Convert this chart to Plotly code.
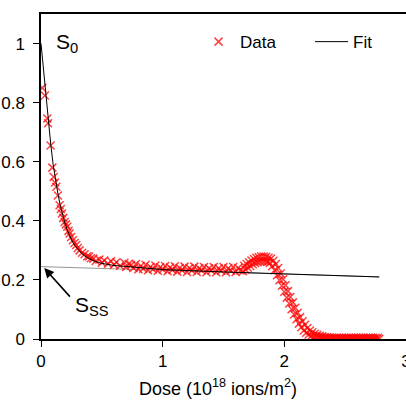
import plotly.graph_objects as go

# Measured data (dose in 1e18 ions/m^2, normalized S)
dose = [0.010, 0.032, 0.052, 0.058, 0.079, 0.093, 0.104, 0.115, 0.126, 0.139,
        0.153, 0.163, 0.172, 0.183, 0.194, 0.205, 0.216, 0.226, 0.235, 0.248,
        0.262, 0.276, 0.290, 0.303, 0.317, 0.338, 0.358, 0.380, 0.395, 0.410,
        0.430, 0.450, 0.480, 0.500, 0.520, 0.550, 0.576, 0.600, 0.620, 0.650,
        0.686, 0.700, 0.720,
        0.74, 0.76, 0.78, 0.80, 0.82, 0.84, 0.86, 0.88, 0.90, 0.92,
        0.94, 0.96, 0.98, 1.00, 1.02, 1.04, 1.06, 1.08, 1.10, 1.12,
        1.14, 1.16, 1.18, 1.20, 1.22, 1.24, 1.26, 1.28, 1.30, 1.32,
        1.34, 1.36, 1.38, 1.40, 1.42, 1.44, 1.46, 1.48, 1.50, 1.52,
        1.54, 1.56, 1.58, 1.60, 1.62, 1.64,
        1.66, 1.67, 1.68, 1.69, 1.70, 1.71, 1.72, 1.73, 1.74, 1.75,
        1.76, 1.77, 1.78, 1.79, 1.80, 1.81, 1.82, 1.83, 1.84, 1.85,
        1.86, 1.87, 1.88, 1.89, 1.90, 1.91, 1.92, 1.93, 1.94, 1.95,
        1.96, 1.97, 1.98, 1.99, 2.00, 2.01, 2.02, 2.03, 2.04, 2.05,
        2.06, 2.07, 2.08, 2.09, 2.10, 2.11, 2.12, 2.13, 2.14, 2.15,
        2.16, 2.17, 2.18, 2.19, 2.20, 2.21, 2.22, 2.23, 2.24, 2.25,
        2.26, 2.27, 2.28, 2.29, 2.30, 2.31, 2.32, 2.33, 2.34, 2.35,
        2.36, 2.37, 2.38, 2.39, 2.40, 2.41, 2.42, 2.43, 2.44, 2.45,
        2.46, 2.47, 2.48, 2.49, 2.50, 2.51, 2.52, 2.53, 2.54, 2.55,
        2.56, 2.57, 2.58, 2.59, 2.60, 2.61, 2.62, 2.63, 2.64, 2.65,
        2.66, 2.67, 2.68, 2.69, 2.70, 2.71, 2.72, 2.73, 2.74, 2.75,
        2.76, 2.77, 2.78]
signal = [0.850, 0.824, 0.746, 0.730, 0.655, 0.580, 0.548, 0.530, 0.515, 0.486,
          0.453, 0.440, 0.425, 0.410, 0.396, 0.388, 0.380, 0.366, 0.357, 0.345,
          0.334, 0.325, 0.318, 0.308, 0.300, 0.292, 0.287, 0.280, 0.279, 0.273,
          0.272, 0.264, 0.269, 0.258, 0.266, 0.255, 0.263, 0.251, 0.260, 0.248,
          0.258, 0.244, 0.254,
          0.250, 0.240, 0.254, 0.236, 0.247, 0.238, 0.251, 0.233, 0.244, 0.236,
          0.249, 0.231, 0.243, 0.235, 0.247, 0.229, 0.242, 0.234, 0.246, 0.228,
          0.240, 0.233, 0.245, 0.227, 0.240, 0.232, 0.245, 0.227, 0.239, 0.232,
          0.244, 0.226, 0.239, 0.232, 0.244, 0.226, 0.239, 0.231, 0.244, 0.226,
          0.239, 0.231, 0.244, 0.227, 0.240, 0.232,
          0.229, 0.248, 0.235, 0.254, 0.241, 0.260, 0.247, 0.266, 0.253, 0.271,
          0.257, 0.275, 0.260, 0.277, 0.262, 0.279, 0.263, 0.279, 0.263, 0.278,
          0.261, 0.275, 0.257, 0.272, 0.246, 0.265, 0.233, 0.254, 0.216, 0.240,
          0.199, 0.222, 0.180, 0.202, 0.160, 0.182, 0.140, 0.162, 0.120, 0.142,
          0.101, 0.124, 0.083, 0.106, 0.067, 0.089, 0.052, 0.074, 0.040, 0.060,
          0.029, 0.048, 0.021, 0.037, 0.015, 0.029, 0.010, 0.023, 0.007, 0.018,
          0.005, 0.014, 0.004, 0.011, 0.003, 0.009, 0.003, 0.007, 0.002, 0.006,
          0.002, 0.005, 0.001, 0.004, 0.001, 0.004, 0.000, 0.004, 0.000, 0.004,
          0.000, 0.004, 0.000, 0.004, 0.000, 0.004, 0.000, 0.004, 0.000, 0.004,
          0.000, 0.004, 0.000, 0.004, 0.000, 0.004, 0.000, 0.004, 0.000, 0.004,
          0.000, 0.004, 0.000, 0.004, 0.000, 0.004, 0.000, 0.004, 0.000, 0.004,
          0.000, 0.004, 0.000]

# Fit curve
fit_dose = [0.00, 0.02, 0.04, 0.06, 0.08, 0.10, 0.12, 0.14, 0.16, 0.18,
            0.20, 0.22, 0.24, 0.26, 0.28, 0.30, 0.33, 0.36, 0.40, 0.45,
            0.50, 0.60, 0.70, 0.80, 1.00, 1.50, 2.00, 2.50, 2.78]
fit_signal = [1.000, 0.910, 0.820, 0.740, 0.660, 0.590, 0.535, 0.490, 0.448, 0.415,
              0.388, 0.365, 0.345, 0.328, 0.315, 0.304, 0.291, 0.281, 0.271, 0.262,
              0.256, 0.249, 0.245, 0.241, 0.235, 0.227, 0.220, 0.214, 0.210]

# Steady-state asymptote
ss_dose = [0.0, 2.78]
ss_signal = [0.245, 0.210]

x_ticks = [0, 1, 2, 3]
y_ticks = [0, 0.2, 0.4, 0.6, 0.8, 1]

FONT = "Liberation Sans, Arial, sans-serif"

fig = go.Figure()
fig.add_trace(go.Scatter(
    x=ss_dose, y=ss_signal, mode="lines", showlegend=False,
    line=dict(color="rgb(150,150,150)", width=1), hoverinfo="skip"))
fig.add_trace(go.Scatter(
    x=dose, y=signal, mode="markers", name="Data",
    marker=dict(symbol="x-thin", size=8,
                line=dict(width=1.5, color="rgba(255,0,0,0.75)"))))
fig.add_trace(go.Scatter(
    x=fit_dose, y=fit_signal, mode="lines", name="Fit",
    line=dict(color="black", width=1)))

fig.add_annotation(x=0.11, y=1.003, xref="x", yref="y", text="S<sub>0</sub>",
                   showarrow=False, xanchor="left", yanchor="middle",
                   font=dict(family=FONT, size=21, color="black"))
fig.add_annotation(x=0.265, y=0.112, xref="x", yref="y", text="S<sub>SS</sub>",
                   showarrow=False, xanchor="left", yanchor="middle",
                   font=dict(family=FONT, size=21, color="black"))
fig.add_annotation(x=0.027, y=0.240, xref="x", yref="y", text="",
                   showarrow=True, arrowhead=2, arrowsize=1.2, arrowwidth=1.6,
                   arrowcolor="black", ax=27, ay=30)
# x-axis title
fig.add_annotation(x=0.486, y=-0.148, xref="paper", yref="paper",
                   text="Dose (10<sup>18</sup> ions/m<sup>2</sup>)",
                   showarrow=False, xanchor="center", yanchor="middle",
                   font=dict(family=FONT, size=18, color="black"))

fig.update_layout(
    width=406, height=400,
    margin=dict(l=41, r=0, t=14, b=61, autoexpand=False),
    paper_bgcolor="white", plot_bgcolor="white",
    font=dict(family=FONT, size=17, color="black"),
    legend=dict(orientation="h", x=0.4275, y=0.969, xanchor="left", yanchor="top",
                bgcolor="rgba(0,0,0,0)", font=dict(size=17), itemwidth=33,
                entrywidth=65, entrywidthmode="pixels", traceorder="normal"),
    xaxis=dict(range=[0, 3], tickvals=x_ticks, ticks="outside", ticklen=6,
               tickwidth=1.3, tickcolor="black", showline=True, linecolor="black",
               linewidth=1.5, mirror=True, showgrid=False, zeroline=False,
               automargin=False, ticklabeloverflow="allow"),
    yaxis=dict(range=[0, 1.1], tickvals=y_ticks, ticks="outside", ticklen=6,
               tickwidth=1.3, tickcolor="black", showline=True, linecolor="black",
               linewidth=1.5, showgrid=False, zeroline=False, automargin=False,
               ticklabelstandoff=5, ticklabeloverflow="allow"),
)

fig.write_html("out.html", config={"displayModeBar": False},
               post_script="document.body.style.margin='0';")
